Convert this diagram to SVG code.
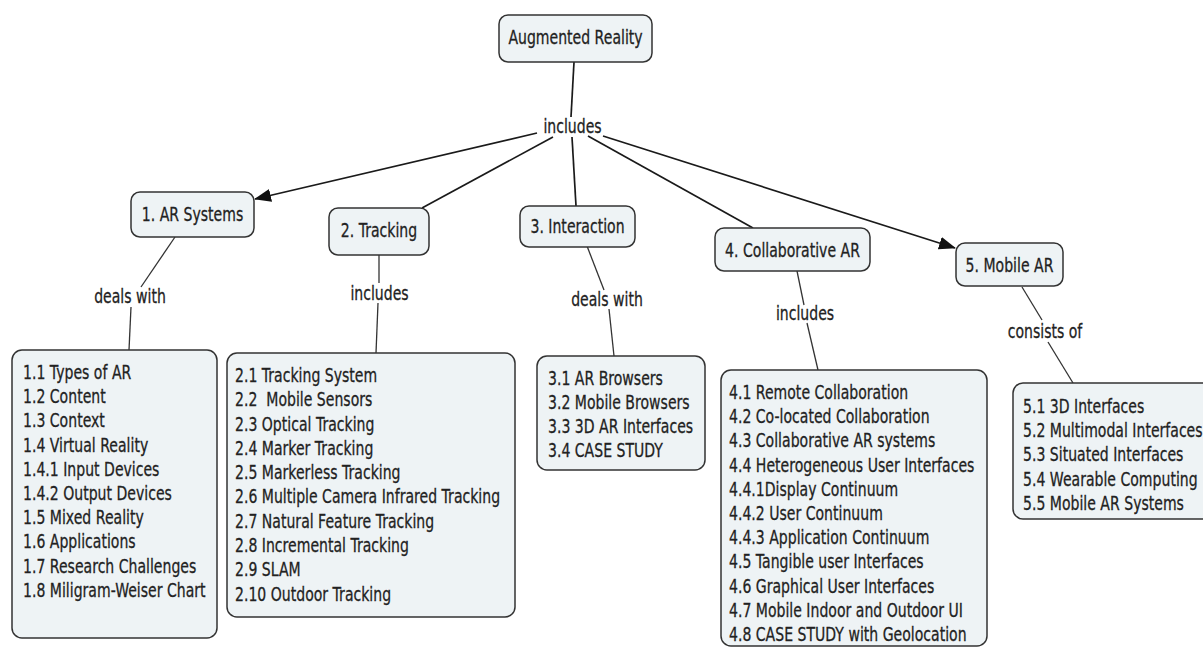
<svg xmlns="http://www.w3.org/2000/svg" width="1203" height="648" viewBox="0 0 1203 648">
  <style>
    .box{fill:#eef3f5;stroke:#333;stroke-width:1.5}
    .t{font-family:"DejaVu Sans",Verdana,sans-serif;font-size:19px;fill:#222;stroke:#222;stroke-width:0.3}
    .c{text-anchor:middle}
    .ln{stroke:#1a1a1a;stroke-width:1.7;fill:none}
    .sub{stroke:#333;stroke-width:1.3;fill:none}
  </style>
  <defs>
    <marker id="arr" markerWidth="17" markerHeight="13" refX="16" refY="6.5" orient="auto" markerUnits="userSpaceOnUse">
      <path d="M0,0 L17,6.5 L0,13 z" fill="#111"/>
    </marker>
  </defs>
  <rect width="1203" height="648" fill="#fff"/>

  <!-- connectors and linking phrases -->
  <g id="connectors">
    <path class="ln" d="M574,62 L571,117"/>
    <path class="ln" d="M537,133 L255,199" marker-end="url(#arr)"/>
    <path class="ln" d="M553,137 L422,208"/>
    <path class="ln" d="M572,137 L576,206"/>
    <path class="ln" d="M588,136 L753,228"/>
    <path class="ln" d="M603,136 L955,248" marker-end="url(#arr)"/>

    <path class="sub" d="M175,237 L141,287"/>
    <path class="sub" d="M131,307 L129,350"/>
    <path class="sub" d="M379,255 L379,283"/>
    <path class="sub" d="M378,303 L376,353"/>
    <path class="sub" d="M587,246 L604,290"/>
    <path class="sub" d="M609,309 L614,356"/>
    <path class="sub" d="M797,271 L804,305"/>
    <path class="sub" d="M807,323 L818,370"/>
    <path class="sub" d="M1022,287 L1042,320"/>
    <path class="sub" d="M1048,342 L1073,383"/>

    <g id="phrases">
      <text class="t c" transform="translate(572.5,133) scale(0.74,1)">includes</text>
      <text class="t c" transform="translate(130,303) scale(0.74,1)">deals with</text>
      <text class="t c" transform="translate(379.5,300) scale(0.74,1)">includes</text>
      <text class="t c" transform="translate(607,306) scale(0.74,1)">deals with</text>
      <text class="t c" transform="translate(805,320) scale(0.74,1)">includes</text>
      <text class="t c" transform="translate(1045,338) scale(0.74,1)">consists of</text>
    </g>
  </g>

  <g id="node-ar">
    <rect class="box" x="499" y="15" width="153" height="47" rx="9"/>
    <text class="t c" transform="translate(575.5,44) scale(0.74,1)">Augmented Reality</text>
  </g>

  <g id="node-1">
    <rect class="box" x="131" y="192" width="123" height="45" rx="9"/>
    <text class="t c" transform="translate(192.5,221) scale(0.74,1)">1. AR Systems</text>
  </g>
  <g id="node-2">
    <rect class="box" x="329" y="208" width="100" height="47" rx="9"/>
    <text class="t c" transform="translate(379,237) scale(0.74,1)">2. Tracking</text>
  </g>
  <g id="node-3">
    <rect class="box" x="520" y="206" width="115" height="41" rx="9"/>
    <text class="t c" transform="translate(577.5,233) scale(0.74,1)">3. Interaction</text>
  </g>
  <g id="node-4">
    <rect class="box" x="715" y="228" width="155" height="43" rx="9"/>
    <text class="t c" transform="translate(792.5,257) scale(0.74,1)">4. Collaborative AR</text>
  </g>
  <g id="node-5">
    <rect class="box" x="956" y="243" width="107" height="43" rx="9"/>
    <text class="t c" transform="translate(1009.5,272) scale(0.74,1)">5. Mobile AR</text>
  </g>

  <g id="list-1">
    <rect class="box" x="12" y="350" width="205" height="288" rx="10"/>
    <text class="t" transform="translate(23,379) scale(0.74,1)">
      <tspan x="0" dy="0">1.1 Types of AR</tspan>
      <tspan x="0" dy="24.2">1.2 Content</tspan>
      <tspan x="0" dy="24.2">1.3 Context</tspan>
      <tspan x="0" dy="24.2">1.4 Virtual Reality</tspan>
      <tspan x="0" dy="24.2">1.4.1 Input Devices</tspan>
      <tspan x="0" dy="24.2">1.4.2 Output Devices</tspan>
      <tspan x="0" dy="24.2">1.5 Mixed Reality</tspan>
      <tspan x="0" dy="24.2">1.6 Applications</tspan>
      <tspan x="0" dy="24.2">1.7 Research Challenges</tspan>
      <tspan x="0" dy="24.2">1.8 Miligram-Weiser Chart</tspan>
    </text>
  </g>

  <g id="list-2">
    <rect class="box" x="227" y="353" width="288" height="264" rx="10"/>
    <text class="t" transform="translate(235,382) scale(0.74,1)">
      <tspan x="0" dy="0">2.1 Tracking System</tspan>
      <tspan x="0" dy="24.3">2.2&#160; Mobile Sensors</tspan>
      <tspan x="0" dy="24.3">2.3 Optical Tracking</tspan>
      <tspan x="0" dy="24.3">2.4 Marker Tracking</tspan>
      <tspan x="0" dy="24.3">2.5 Markerless Tracking</tspan>
      <tspan x="0" dy="24.3">2.6 Multiple Camera Infrared Tracking</tspan>
      <tspan x="0" dy="24.3">2.7 Natural Feature Tracking</tspan>
      <tspan x="0" dy="24.3">2.8 Incremental Tracking</tspan>
      <tspan x="0" dy="24.3">2.9 SLAM</tspan>
      <tspan x="0" dy="24.3">2.10 Outdoor Tracking</tspan>
    </text>
  </g>

  <g id="list-3">
    <rect class="box" x="537" y="356" width="168" height="114" rx="10"/>
    <text class="t" transform="translate(548,385) scale(0.74,1)">
      <tspan x="0" dy="0">3.1 AR Browsers</tspan>
      <tspan x="0" dy="24">3.2 Mobile Browsers</tspan>
      <tspan x="0" dy="24">3.3 3D AR Interfaces</tspan>
      <tspan x="0" dy="24">3.4 CASE STUDY</tspan>
    </text>
  </g>

  <g id="list-4">
    <rect class="box" x="721" y="370" width="266" height="276" rx="10"/>
    <text class="t" transform="translate(729,399) scale(0.74,1)">
      <tspan x="0" dy="0">4.1 Remote Collaboration</tspan>
      <tspan x="0" dy="24.2">4.2 Co-located Collaboration</tspan>
      <tspan x="0" dy="24.2">4.3 Collaborative AR systems</tspan>
      <tspan x="0" dy="24.2">4.4 Heterogeneous User Interfaces</tspan>
      <tspan x="0" dy="24.2">4.4.1Display Continuum</tspan>
      <tspan x="0" dy="24.2">4.4.2 User Continuum</tspan>
      <tspan x="0" dy="24.2">4.4.3 Application Continuum</tspan>
      <tspan x="0" dy="24.2">4.5 Tangible user Interfaces</tspan>
      <tspan x="0" dy="24.2">4.6 Graphical User Interfaces</tspan>
      <tspan x="0" dy="24.2">4.7 Mobile Indoor and Outdoor UI</tspan>
      <tspan x="0" dy="24.2">4.8 CASE STUDY with Geolocation</tspan>
    </text>
  </g>

  <g id="list-5">
    <rect class="box" x="1013" y="383" width="204" height="136" rx="10"/>
    <text class="t" transform="translate(1023,413) scale(0.74,1)">
      <tspan x="0" dy="0">5.1 3D Interfaces</tspan>
      <tspan x="0" dy="24.2">5.2 Multimodal Interfaces</tspan>
      <tspan x="0" dy="24.2">5.3 Situated Interfaces</tspan>
      <tspan x="0" dy="24.2">5.4 Wearable Computing</tspan>
      <tspan x="0" dy="24.2">5.5 Mobile AR Systems</tspan>
    </text>
  </g>
</svg>
